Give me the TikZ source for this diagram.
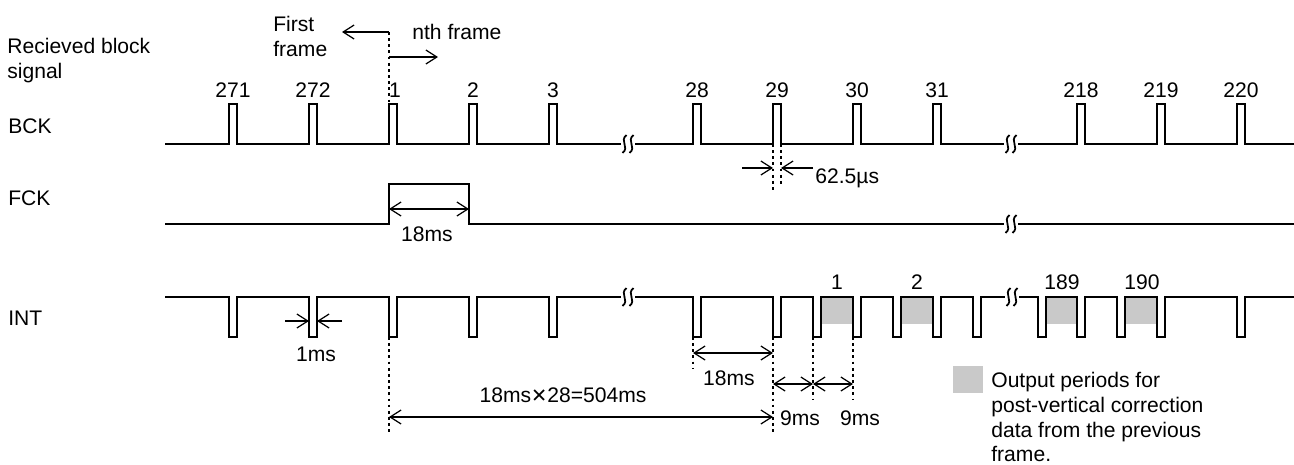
\documentclass[tikz,border=0pt]{standalone}
\usepackage{fontspec}
\setmainfont{Liberation Sans}
\newfontfamily\symfont{DejaVu Sans}
\usetikzlibrary{arrows.meta}
\tikzset{
    sig/.style = {line width = 0.7pt},
    guide/.style = {line width = 1pt, dash pattern = on 1.6pt off 1.9pt},
    outbox/.style = {fill = gray!42},
    brk/.pic = {
        \fill[white] (-7,-3) rectangle (7,3);
        \draw[line width = 1pt] (-1.5,-9) .. controls (-9,-3) and (2,3) .. (-5.5,9);
        \draw[line width = 1pt] (5.5,-9) .. controls (-2,-3) and (9,3) .. (1.5,9);
    }
}
\begin{document}
\begin{tikzpicture}[x = 0.02cm, y = -0.02cm, >={Straight Barb[length=2.2mm,width=2.8mm]},
        font = \fontsize{12}{14.2}\selectfont]
    \useasboundingbox (0,0) rectangle (1294,464);
    % signal names
    \node[anchor = west, align = left, inner sep = 0] (rx) at (7,61) {Recieved block\\signal};
    \node[anchor = west, inner sep = 0] (bck) at (8,126) {BCK};
    \node[anchor = west, inner sep = 0] (fck) at (8,198) {FCK};
    \node[anchor = west, inner sep = 0] (int) at (8,318) {INT};
    % output periods
    \begin{scope}[style = outbox]
        \fill (822,297) rectangle (853,324);
        \fill (902,297) rectangle (933,324);
        \fill (1046,297) rectangle (1077,324);
        \fill (1126,297) rectangle (1157,324);
    \end{scope}
    % waveforms
    \begin{scope}[style = sig]
        \draw (165,144) -- (229,144) |- (237,104) |- (309,144) |- (317,104) |- (389,144) |- (397,104)
            |- (469,144) |- (477,104) |- (549,144) |- (557,104) |- (693,144) |- (701,104)
            |- (773,144) |- (781,104) |- (853,144) |- (861,104) |- (933,144) |- (941,104)
            |- (1077,144) |- (1085,104) |- (1157,144) |- (1165,104) |- (1237,144) |- (1245,104) |- (1294,144);
        \draw (165,224) -- (389,224) |- (469,184) |- (1294,224);
        \draw (165,297) -- (229,297) |- (237,337) |- (309,297) |- (317,337) |- (389,297) |- (397,337)
            |- (469,297) |- (477,337) |- (549,297) |- (557,337) |- (693,297) |- (701,337)
            |- (773,297) |- (781,337) |- (813,297) |- (821,337) |- (853,297) |- (861,337)
            |- (893,297) |- (901,337) |- (933,297) |- (941,337) |- (973,297) |- (981,337)
            |- (1038,297) |- (1046,337) |- (1077,297) |- (1085,337) |- (1117,297) |- (1125,337)
            |- (1157,297) |- (1165,337) |- (1237,297) |- (1245,337) |- (1294,297);
    \end{scope}
    \pic at (628,144) {brk};
    \pic at (1011,144) {brk};
    \pic at (1011,224) {brk};
    \pic at (628,297) {brk};
    \pic at (1012,297) {brk};
    % block numbers
    \node (b271) at (233,90) {271};
    \node (b272) at (313,90) {272};
    \node (b1) at (395,90) {1};
    \node (b2) at (473,90) {2};
    \node (b3) at (553,90) {3};
    \node (b28) at (697,90) {28};
    \node (b29) at (777,90) {29};
    \node (b30) at (857,90) {30};
    \node (b31) at (937,90) {31};
    \node (b218) at (1081,90) {218};
    \node (b219) at (1161,90) {219};
    \node (b220) at (1241,90) {220};
    \node (o1) at (837,282) {1};
    \node (o2) at (917,282) {2};
    \node (o189) at (1062,282) {189};
    \node (o190) at (1142,282) {190};
    % frame boundary
    \coordinate (ftop) at (389,32);
    \coordinate (fmid) at (389,57);
    \coordinate (fbot) at (389,104);
    \node[anchor = west, align = left, inner sep = 0] (first) at (273,36) {First\\frame};
    \node[anchor = west, inner sep = 0] (nth) at (412,32) {nth frame};
    \coordinate (fl) at (342,32);
    \coordinate (fr) at (438,57);
    \draw[guide] (ftop) -- (fbot);
    \draw[sig, ->] (ftop) -- (fl);
    \draw[sig, ->] (fmid) -- (fr);
    % 62.5us
    \coordinate (wa) at (773,144);
    \coordinate (wb) at (781,144);
    \coordinate (wa2) at (773,192);
    \coordinate (wb2) at (781,186);
    \coordinate (wl) at (742,168);
    \coordinate (wla) at (773,168);
    \coordinate (wr) at (813,168);
    \coordinate (wrb) at (781,168);
    \draw[guide] (wa) -- (wa2);
    \draw[guide] (wb) -- (wb2);
    \draw[sig, ->] (wl) -- (wla);
    \draw[sig, ->] (wr) -- (wrb);
    \node[anchor = west, inner sep = 0] (us) at (815,178) {62.5µs};
    % 18ms frame
    \coordinate (fa) at (389,209);
    \coordinate (fb) at (469,209);
    \draw[sig, <->] (fa) -- (fb);
    \node (f18) at (427,234) {18ms};
    % 1ms
    \coordinate (ia) at (285,321);
    \coordinate (ib) at (309,321);
    \coordinate (ic) at (342,321);
    \coordinate (id) at (317,321);
    \draw[sig, ->] (ia) -- (ib);
    \draw[sig, ->] (ic) -- (id);
    \node (i1) at (316,354) {1ms};
    % 504ms
    \coordinate (pa) at (389,337);
    \coordinate (pb) at (389,432);
    \coordinate (pl) at (389,417);
    \coordinate (pr) at (773,417);
    \draw[guide] (pa) -- (pb);
    \draw[sig, <->] (pl) -- (pr);
    \node (p504) at (563,395) {18ms{\symfont\fontsize{11}{12}\selectfont ✕}28=504ms};
    % 18ms and 9ms
    \coordinate (qa) at (693,337);
    \coordinate (qb) at (693,369);
    \coordinate (qc) at (773,337);
    \coordinate (qd) at (773,432);
    \coordinate (qe) at (813,337);
    \coordinate (qf) at (813,400);
    \coordinate (qg) at (853,337);
    \coordinate (qh) at (853,400);
    \draw[guide] (qa) -- (qb);
    \draw[guide] (qc) -- (qd);
    \draw[guide] (qe) -- (qf);
    \draw[guide] (qg) -- (qh);
    \coordinate (ql) at (693,353);
    \coordinate (qr) at (773,353);
    \draw[sig, <->] (ql) -- (qr);
    \node (q18) at (729,378) {18ms};
    \coordinate (n1) at (773,384);
    \coordinate (n2) at (813,384);
    \coordinate (n3) at (853,384);
    \draw[sig, <->] (n1) -- (n2);
    \draw[sig, <->] (n2) -- (n3);
    \node (n9a) at (800,418) {9ms};
    \node (n9b) at (860,418) {9ms};
    % legend
    \fill[outbox] (953,366) rectangle (983,393);
    \node[anchor = west, align = left, inner sep = 0] (leg) at (991,417)
        {Output periods for\\post-vertical correction\\data from the previous\\frame.};
\end{tikzpicture}
\end{document}
